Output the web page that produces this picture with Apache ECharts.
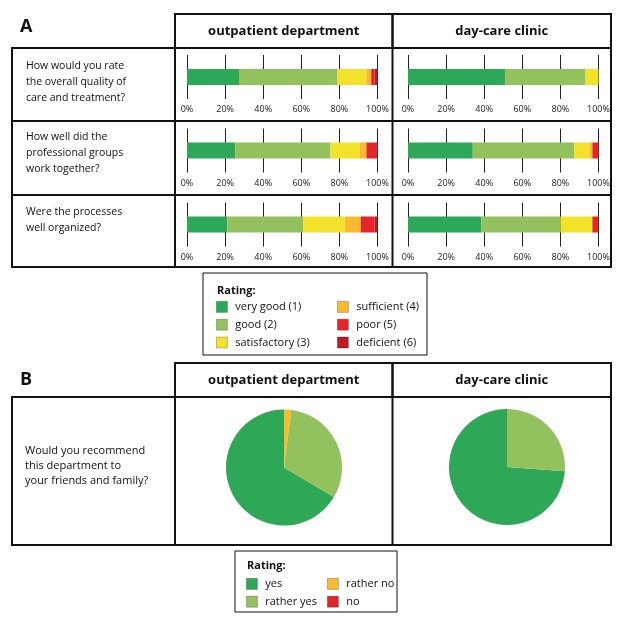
<!DOCTYPE html>
<html>
<head>
<meta charset="utf-8">
<script src="https://cdn.jsdelivr.net/npm/echarts@6/dist/echarts.min.js"></script>
<style>
html,body{margin:0;padding:0;background:#fff;}
#main{width:625px;height:622px;}
</style>
</head>
<body>
<div id="main"></div>
<script>
// ---- data ----
const ratingCats = ['very good (1)', 'good (2)', 'satisfactory (3)', 'sufficient (4)', 'poor (5)', 'deficient (6)'];
const ratingColors = ['#2ca858', '#93c15d', '#f2e22a', '#fbb92d', '#e3262b', '#bf1b21'];
const questions = [
  'How would you rate\nthe overall quality of\ncare and treatment?',
  'How well did the\nprofessional groups\nwork together?',
  'Were the processes\nwell organized?'
];
// percentage shares per rating, one array per question
const outpatientQ1 = [27.3, 51.7, 15.1, 2.6, 1.7, 1.6];
const outpatientQ2 = [25.4, 49.9, 15.2, 3.7, 5.8, 0];
const outpatientQ3 = [21.2, 39.9, 21.6, 8.5, 7.2, 1.6];
const daycareQ1 = [50.9, 42.3, 6.8, 0, 0, 0];
const daycareQ2 = [34.0, 53.3, 7.9, 1.6, 3.2, 0];
const daycareQ3 = [38.4, 41.6, 16.8, 0, 3.2, 0];
const tickLabels = ['0%', '20%', '40%', '60%', '80%', '100%'];

const recommendQuestion = 'Would you recommend\nthis department to\nyour friends and family?';
const recommendCats = ['yes', 'rather yes', 'rather no', 'no'];
const recommendColors = ['#2ea756', '#93c15d', '#fbb92d', '#e3262b'];
const recommendOutpatient = [66.5, 31.5, 2.0, 0];
const recommendDaycare = [73.8, 26.2, 0, 0];

const departments = ['outpatient department', 'day-care clinic'];

// ---- layout ----
const FONT = 'Open Sans';
const colLeft = [187, 408];
const colWidth = 190.5;
const rowCenter = [77, 150.5, 224.5];
const barData = [[outpatientQ1, outpatientQ2, outpatientQ3], [daycareQ1, daycareQ2, daycareQ3]];

const grids = [], xAxes = [], yAxes = [], series = [];
let gi = 0;
for (let c = 0; c < 2; c++) {
  for (let r = 0; r < 3; r++) {
    grids.push({left: colLeft[c], width: colWidth, top: rowCenter[r] - 22, height: 44, containLabel: false});
    xAxes.push({
      type: 'value', gridIndex: gi, min: 0, max: 100, interval: 20,
      axisLine: {show: false}, axisTick: {show: false},
      splitLine: {show: true, lineStyle: {color: '#222', width: 1}},
      axisLabel: {
        margin: 6, fontSize: 9, color: '#222', fontFamily: FONT,
        formatter: v => tickLabels[Math.round(v / 20)]
      }
    });
    yAxes.push({type: 'category', gridIndex: gi, data: [''], show: false});
    const vals = barData[c][r];
    ratingCats.forEach((name, k) => {
      series.push({
        type: 'bar', name: name, xAxisIndex: gi, yAxisIndex: gi, stack: 's' + gi,
        barWidth: 16, data: [vals[k]], silent: true,
        itemStyle: {color: ratingColors[k]}
      });
    });
    gi++;
  }
}

function pieSeries(vals, cx, cy) {
  return {
    type: 'pie', center: [cx, cy], radius: 58, startAngle: 90, clockwise: false,
    label: {show: false}, labelLine: {show: false}, silent: true,
    itemStyle: {borderWidth: 0},
    data: recommendCats.map((n, i) => ({name: n, value: vals[i], itemStyle: {color: recommendColors[i]}}))
  };
}
series.push(pieSeries(recommendOutpatient, 284, 467.5));
series.push(pieSeries(recommendDaycare, 507, 467));

function legendBlock(names, left, top) {
  return {
    data: names, orient: 'vertical', left: left, top: top, padding: 0,
    icon: 'rect', itemWidth: 11, itemHeight: 11, itemGap: 6,
    selectedMode: false,
    itemStyle: {borderColor: 'rgba(0,0,0,0.3)', borderWidth: 0.8},
    formatter: n => ' ' + n,
    textStyle: {fontSize: 11, color: '#111', fontFamily: FONT, padding: [0, 0, 0, 0]}
  };
}
const legends = [
  legendBlock(ratingCats.slice(0, 3), 216, 301),
  legendBlock(ratingCats.slice(3), 337, 301),
  legendBlock(recommendCats.slice(0, 2), 246, 578),
  legendBlock(recommendCats.slice(2), 327, 578)
];

// ---- table graphics ----
const LW = 2, INK = '#111';
function rect(x1, y1, x2, y2, lw) {
  return {type: 'rect', shape: {x: x1, y: y1, width: x2 - x1, height: y2 - y1},
          style: {fill: null, stroke: INK, lineWidth: lw || LW}, silent: true};
}
function line(x1, y1, x2, y2, lw) {
  return {type: 'line', shape: {x1, y1, x2, y2}, style: {stroke: INK, lineWidth: lw || LW}, silent: true};
}
function text(str, x, y, opts) {
  return {type: 'text', x: x, y: y, silent: true,
          style: Object.assign({text: str, fill: '#111', font: '10.5px "' + FONT + '"'}, opts || {})};
}
const colX = [175, 392.5, 611];
const graphics = [
  // Panel A
  text('A', 20, 27, {font: 'bold 18px "' + FONT + '"', verticalAlign: 'middle'}),
  rect(colX[0], 14, colX[1], 48), rect(colX[1], 14, colX[2], 48),
  rect(12, 48, colX[2], 267),
  line(12, 121, colX[2], 121), line(12, 195, colX[2], 195),
  line(colX[0], 48, colX[0], 267), line(colX[1], 48, colX[1], 267),
  // Panel B
  text('B', 20, 380, {font: 'bold 18px "' + FONT + '"', verticalAlign: 'middle'}),
  rect(colX[0], 363, colX[1], 397), rect(colX[1], 363, colX[2], 397),
  rect(12, 397, colX[2], 545),
  line(colX[0], 397, colX[0], 545), line(colX[1], 397, colX[1], 545),
  // legend boxes
  rect(203, 273, 427, 355, 1), rect(235, 551, 397, 612, 1),
  text('Rating:', 217, 291, {font: 'bold 11px "' + FONT + '"', verticalAlign: 'middle'}),
  text('Rating:', 247, 566, {font: 'bold 11px "' + FONT + '"', verticalAlign: 'middle'})
];
departments.forEach((d, i) => {
  const cx = (colX[i] + colX[i + 1]) / 2;
  graphics.push(text(d, cx, 31, {font: 'bold 13px "' + FONT + '"', align: 'center', verticalAlign: 'middle'}));
  graphics.push(text(d, cx, 380, {font: 'bold 13px "' + FONT + '"', align: 'center', verticalAlign: 'middle'}));
});
const qTop = [58, 129, 204];
questions.forEach((q, i) => {
  graphics.push(text(q, 26, qTop[i], {lineHeight: 16, verticalAlign: 'top'}));
});
graphics.push(text(recommendQuestion, 25, 443, {lineHeight: 15, verticalAlign: 'top', font: '11px "' + FONT + '"'}));

const chart = echarts.init(document.getElementById('main'), null, {renderer: 'canvas'});
chart.setOption({
  animation: false,
  backgroundColor: '#fff',
  textStyle: {fontFamily: FONT},
  grid: grids, xAxis: xAxes, yAxis: yAxes,
  legend: legends,
  series: series,
  graphic: graphics
});
</script>
</body>
</html>
